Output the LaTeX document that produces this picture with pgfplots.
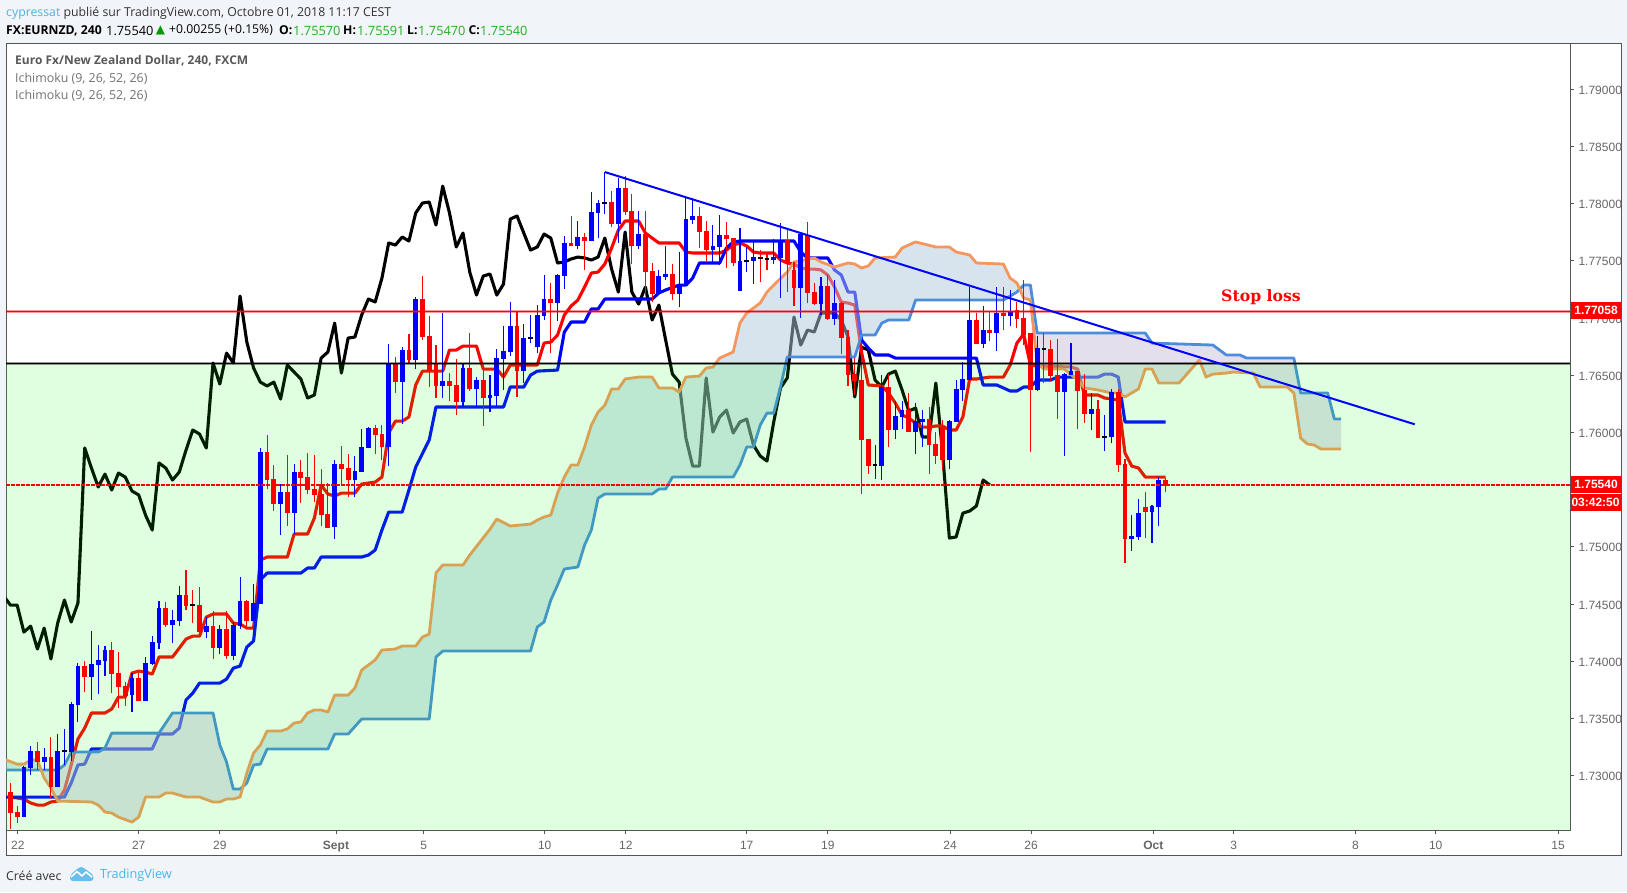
\documentclass[border=0pt]{standalone}
\usepackage{fontspec}
\usepackage{pgfplots}
\usepackage{pgfplotstable}
\pgfplotsset{compat=1.18}
\setmainfont{Open Sans}
\newfontfamily\tickfont{Liberation Sans}
\newfontfamily\stopfont{DejaVu Serif}
\newfontfamily\symfont{DejaVu Sans}
\definecolor{pagebg}{HTML}{F1F4F8}
\definecolor{frame}{HTML}{555555}
\definecolor{ticktxt}{HTML}{666666}
\definecolor{tvblue}{HTML}{4DB4E8}
\definecolor{valgreen}{HTML}{22B022}
\definecolor{cloudT}{RGB}{177,203,221}
\definecolor{cloudP}{RGB}{201,193,221}
\definecolor{leadA}{RGB}{75,140,220}
\definecolor{leadB}{RGB}{245,150,95}
\definecolor{puregreen}{RGB}{0,255,0}
% candles: i, body top, body bottom, wick top, wick bottom
\pgfplotstableread{
i hi lo wh wl
2 1.73074 1.72637 1.73083 1.72637
3 1.73214 1.73065 1.73258 1.73004
5 1.73162 1.73118 1.73240 1.73048
7 1.73214 1.72900 1.73363 1.72900
8 1.73214 1.73214 1.73407 1.73092
9 1.73625 1.73205 1.73643 1.73126
10 1.73957 1.73616 1.73984 1.73468
12 1.73975 1.73861 1.74263 1.73660
13 1.74010 1.73966 1.74141 1.73712
14 1.74097 1.74001 1.74132 1.73870
18 1.73853 1.73703 1.73896 1.73555
20 1.73984 1.73651 1.74036 1.73651
21 1.74167 1.73975 1.74219 1.73966
22 1.74464 1.74158 1.74525 1.74106
24 1.74359 1.74315 1.74447 1.74158
25 1.74578 1.74350 1.74657 1.74306
29 1.74306 1.74254 1.74385 1.74202
31 1.74280 1.74114 1.74315 1.74062
33 1.74315 1.74045 1.74342 1.74010
34 1.74525 1.74306 1.74735 1.74280
36 1.74508 1.74350 1.74674 1.74350
37 1.75828 1.74499 1.75863 1.74499
40 1.75478 1.75373 1.75548 1.75102
42 1.75653 1.75294 1.75723 1.75111
48 1.75723 1.75172 1.75758 1.75067
51 1.75661 1.75583 1.75793 1.75434
52 1.75871 1.75653 1.76029 1.75653
53 1.76038 1.75863 1.76046 1.75863
56 1.76606 1.75871 1.76772 1.75705
58 1.76719 1.76439 1.76745 1.76072
60 1.77165 1.76632 1.77182 1.76553
64 1.76448 1.76405 1.77043 1.76300
67 1.76562 1.76265 1.76597 1.76221
69 1.76457 1.76379 1.76483 1.76221
71 1.76326 1.76300 1.76500 1.76177
72 1.76649 1.76317 1.76728 1.76230
73 1.76710 1.76641 1.76929 1.76370
74 1.76929 1.76702 1.77139 1.76667
76 1.76824 1.76535 1.76947 1.76431
77 1.76824 1.76824 1.77025 1.76780
78 1.77025 1.76745 1.77112 1.76693
79 1.77165 1.77017 1.77375 1.76982
81 1.77375 1.77130 1.77384 1.76973
82 1.77655 1.77366 1.77716 1.77253
84 1.77707 1.77629 1.77847 1.77602
86 1.77925 1.77672 1.78100 1.77672
87 1.78004 1.77917 1.78030 1.77698
88 1.78004 1.78004 1.78275 1.77908
90 1.78135 1.77821 1.78222 1.77655
93 1.77733 1.77629 1.77934 1.77602
96 1.77366 1.77209 1.77419 1.77200
97 1.77384 1.77358 1.77629 1.77331
99 1.77287 1.77209 1.77576 1.77095
100 1.77864 1.77279 1.78047 1.77279
101 1.77891 1.77856 1.78047 1.77821
104 1.77629 1.77593 1.77812 1.77489
105 1.77725 1.77620 1.77899 1.77463
108 1.77497 1.77235 1.77786 1.77235
109 1.77497 1.77497 1.77620 1.77401
110 1.77532 1.77497 1.77664 1.77296
113 1.77532 1.77506 1.77690 1.77471
114 1.77681 1.77524 1.77830 1.77174
117 1.77733 1.77261 1.77742 1.76999
120 1.77279 1.77121 1.77358 1.77025
122 1.77130 1.76990 1.77331 1.76938
128 1.75714 1.75714 1.75889 1.75592
129 1.76396 1.75705 1.76500 1.75583
131 1.76142 1.76020 1.76273 1.75941
132 1.76195 1.76134 1.76273 1.76029
134 1.76098 1.76002 1.76256 1.75810
135 1.76116 1.76090 1.76195 1.75871
139 1.76098 1.75758 1.76107 1.75679
140 1.76379 1.76090 1.76457 1.76090
141 1.76466 1.76370 1.76614 1.76273
142 1.76982 1.76457 1.77270 1.76457
144 1.76894 1.76772 1.77104 1.76737
146 1.77043 1.76868 1.77270 1.76710
148 1.77060 1.77017 1.77244 1.76929
152 1.76737 1.76370 1.76842 1.76361
156 1.76509 1.76352 1.76518 1.75793
157 1.76535 1.76500 1.76780 1.76500
160 1.76204 1.76160 1.76344 1.76020
162 1.75959 1.75959 1.76151 1.75836
163 1.76352 1.75959 1.76379 1.75906
166 1.75093 1.75067 1.75277 1.74962
167 1.75294 1.75085 1.75417 1.75059
169 1.75356 1.75303 1.75365 1.75032
170 1.75583 1.75347 1.75609 1.75181
}\upbars
\pgfplotstableread{
i hi lo wh wl
0 1.72856 1.72672 1.72935 1.72532
1 1.72681 1.72637 1.72734 1.72585
4 1.73214 1.73118 1.73293 1.73048
6 1.73162 1.72900 1.73336 1.72803
11 1.73957 1.73861 1.74001 1.73730
15 1.74097 1.73887 1.74167 1.73721
16 1.73896 1.73774 1.74080 1.73590
17 1.73783 1.73695 1.73818 1.73608
19 1.73853 1.73651 1.73896 1.73651
23 1.74464 1.74315 1.74517 1.74298
26 1.74578 1.74482 1.74796 1.74447
27 1.74490 1.74490 1.74622 1.74333
28 1.74490 1.74254 1.74648 1.74245
30 1.74306 1.74114 1.74438 1.74019
32 1.74280 1.74045 1.74438 1.74019
35 1.74525 1.74350 1.74534 1.74306
38 1.75828 1.75583 1.75977 1.75504
39 1.75592 1.75373 1.75714 1.75312
41 1.75478 1.75294 1.75801 1.75181
43 1.75653 1.75600 1.75758 1.75382
44 1.75609 1.75496 1.75819 1.75461
45 1.75504 1.75452 1.75801 1.75391
46 1.75461 1.75277 1.75679 1.75181
47 1.75286 1.75163 1.75557 1.75163
49 1.75723 1.75679 1.75880 1.75539
50 1.75688 1.75583 1.75810 1.75434
54 1.76038 1.75977 1.76063 1.75810
55 1.75985 1.75871 1.76063 1.75758
57 1.76606 1.76439 1.76658 1.76344
59 1.76719 1.76632 1.76859 1.76606
61 1.77165 1.76833 1.77366 1.76807
62 1.76842 1.76535 1.77017 1.76396
63 1.76606 1.76405 1.76763 1.76300
65 1.76448 1.76405 1.76518 1.76273
66 1.76414 1.76265 1.76641 1.76151
68 1.76562 1.76379 1.76868 1.76361
70 1.76457 1.76300 1.76544 1.76055
75 1.76929 1.76535 1.77060 1.76309
80 1.77165 1.77130 1.77305 1.76693
83 1.77655 1.77629 1.77891 1.77629
85 1.77707 1.77672 1.77742 1.77419
89 1.78013 1.77821 1.78109 1.77795
91 1.78135 1.77925 1.78240 1.77899
92 1.77934 1.77629 1.78083 1.77471
94 1.77733 1.77401 1.77934 1.77200
95 1.77410 1.77209 1.77480 1.77139
98 1.77384 1.77209 1.77471 1.77156
102 1.77891 1.77751 1.77969 1.77611
103 1.77760 1.77593 1.77847 1.77497
106 1.77725 1.77690 1.77838 1.77436
107 1.77698 1.77480 1.77698 1.77454
111 1.77524 1.77524 1.77593 1.77313
112 1.77515 1.77515 1.77576 1.77419
115 1.77681 1.77489 1.77786 1.77226
116 1.77419 1.77261 1.77489 1.77104
118 1.77725 1.77218 1.77838 1.77130
119 1.77226 1.77121 1.77305 1.77112
121 1.77279 1.76990 1.77375 1.76982
123 1.77130 1.76824 1.77139 1.76684
124 1.76833 1.76500 1.76894 1.76405
125 1.76509 1.76448 1.76649 1.76326
126 1.76457 1.75933 1.76789 1.75461
127 1.75941 1.75705 1.75941 1.75635
130 1.76396 1.76020 1.76509 1.75871
133 1.76195 1.76002 1.76344 1.76002
136 1.76116 1.75889 1.76221 1.75635
137 1.75898 1.75793 1.76002 1.75723
138 1.76046 1.75758 1.76107 1.75670
143 1.76982 1.76772 1.77043 1.76772
145 1.76894 1.76868 1.77052 1.76798
147 1.77043 1.77017 1.77270 1.76894
149 1.77069 1.76990 1.77139 1.76912
150 1.76999 1.76850 1.77331 1.76763
151 1.76868 1.76370 1.76868 1.75828
153 1.76728 1.76728 1.76868 1.76431
154 1.76728 1.76492 1.76807 1.76448
155 1.76500 1.76352 1.76815 1.76116
158 1.76535 1.76361 1.76535 1.76029
159 1.76370 1.76160 1.76509 1.76081
161 1.76204 1.75950 1.76282 1.75950
164 1.76352 1.75714 1.76379 1.75653
165 1.75723 1.75067 1.75767 1.74858
168 1.75347 1.75303 1.75478 1.75076
171 1.75583 1.75539 1.75600 1.75478
}\downbars
\pgfplotstableread{
i p
8 1.73214
27 1.74490
77 1.76824
88 1.78004
109 1.77497
111 1.77524
112 1.77515
128 1.75714
153 1.76728
162 1.75959
}\dojis
\pgfplotstableread{
i p
0 1.72812
2 1.72795
3 1.72760
4 1.72742
5 1.72742
6 1.72769
7 1.72777
8 1.72873
9 1.73092
10 1.73319
11 1.73415
12 1.73547
14 1.73547
15 1.73581
16 1.73686
17 1.73686
18 1.73896
19 1.73913
20 1.73905
21 1.73887
22 1.74036
24 1.74036
25 1.74114
26 1.74193
27 1.74219
28 1.74219
29 1.74385
30 1.74412
32 1.74412
33 1.74333
34 1.74324
35 1.74289
36 1.74289
37 1.74884
38 1.74910
41 1.74910
42 1.75111
44 1.75111
45 1.75251
46 1.75539
47 1.75461
48 1.75443
49 1.75469
51 1.75469
52 1.75548
53 1.75557
54 1.75565
55 1.75609
56 1.75994
57 1.76098
58 1.76098
59 1.76134
60 1.76414
61 1.76535
64 1.76535
65 1.76719
66 1.76719
67 1.76754
69 1.76754
70 1.76553
72 1.76553
73 1.76483
74 1.76588
78 1.76588
79 1.76780
80 1.76789
81 1.76850
82 1.77025
83 1.77104
84 1.77156
85 1.77270
86 1.77392
87 1.77401
88 1.77471
89 1.77611
90 1.77768
91 1.77847
93 1.77847
94 1.77742
95 1.77698
96 1.77655
99 1.77655
100 1.77576
101 1.77567
105 1.77567
106 1.77593
107 1.77637
108 1.77655
109 1.77629
110 1.77576
111 1.77567
113 1.77567
114 1.77506
115 1.77480
116 1.77471
117 1.77436
118 1.77427
119 1.77427
120 1.77419
121 1.77375
122 1.77270
123 1.77139
124 1.77130
125 1.77112
126 1.76702
127 1.76414
129 1.76405
130 1.76344
131 1.76256
132 1.76151
133 1.76125
134 1.76081
135 1.76046
136 1.76046
137 1.76055
138 1.76055
139 1.76020
140 1.76020
141 1.76134
142 1.76466
143 1.76466
145 1.76483
147 1.76483
148 1.76588
149 1.76780
150 1.76859
151 1.76588
152 1.76579
157 1.76571
158 1.76553
159 1.76326
161 1.76326
162 1.76300
163 1.76291
164 1.76282
165 1.75819
166 1.75705
167 1.75688
168 1.75609
171 1.75609
}\tenkan
\pgfplotstableread{
i p
-1 1.72812
8 1.72812
9 1.72935
10 1.73092
11 1.73100
12 1.73232
21 1.73232
22 1.73363
24 1.73363
25 1.73415
26 1.73660
27 1.73721
28 1.73808
31 1.73808
32 1.73843
33 1.73939
34 1.73957
35 1.74123
36 1.74176
37 1.74709
38 1.74770
43 1.74770
44 1.74814
45 1.74814
46 1.74910
52 1.74910
53 1.74927
54 1.74971
55 1.75146
56 1.75303
58 1.75303
59 1.75496
60 1.75696
62 1.75933
63 1.76221
73 1.76221
74 1.76396
76 1.76396
77 1.76500
78 1.76535
81 1.76544
82 1.76877
83 1.76964
85 1.76964
86 1.77078
87 1.77078
88 1.77165
95 1.77165
96 1.77218
97 1.77244
99 1.77287
100 1.77287
101 1.77348
102 1.77480
105 1.77480
106 1.77611
107 1.77664
108 1.77672
116 1.77672
117 1.77576
118 1.77524
121 1.77524
122 1.77419
123 1.77375
124 1.77226
125 1.77226
126 1.76807
127 1.76737
128 1.76676
130 1.76676
131 1.76649
143 1.76649
144 1.76414
146 1.76414
147 1.76388
148 1.76361
149 1.76361
150 1.76396
151 1.76396
152 1.76457
154 1.76457
155 1.76483
161 1.76483
162 1.76509
163 1.76509
164 1.76483
165 1.76090
171 1.76090
}\kijun
\pgfplotstableread{
i p
-1 1.74570
0 1.74490
1 1.74490
2 1.74254
3 1.74306
4 1.74106
5 1.74289
6 1.74019
7 1.74333
8 1.74534
9 1.74342
10 1.74508
11 1.75863
12 1.75688
13 1.75522
14 1.75635
15 1.75496
16 1.75644
17 1.75609
18 1.75487
19 1.75452
20 1.75277
21 1.75146
22 1.75732
23 1.75688
24 1.75583
25 1.75653
26 1.75845
27 1.76020
28 1.75985
29 1.75863
30 1.76606
31 1.76422
32 1.76693
33 1.76606
34 1.77191
35 1.76789
36 1.76562
37 1.76439
38 1.76405
39 1.76439
40 1.76291
41 1.76588
42 1.76527
43 1.76466
44 1.76300
45 1.76326
46 1.76649
47 1.76702
48 1.76955
49 1.76518
50 1.76824
51 1.76833
52 1.77025
53 1.77165
54 1.77139
55 1.77348
56 1.77655
57 1.77637
58 1.77707
59 1.77672
60 1.77917
61 1.78004
62 1.78013
63 1.77812
64 1.78152
65 1.77917
66 1.77620
67 1.77742
68 1.77401
69 1.77200
70 1.77366
71 1.77384
72 1.77200
73 1.77296
74 1.77864
75 1.77891
76 1.77742
77 1.77593
78 1.77620
79 1.77733
80 1.77698
81 1.77480
82 1.77489
83 1.77515
84 1.77532
85 1.77524
86 1.77506
87 1.77532
88 1.77698
89 1.77427
90 1.77226
91 1.77751
92 1.77226
93 1.77121
94 1.77270
95 1.76982
96 1.77112
97 1.76807
98 1.76509
99 1.76439
100 1.75950
101 1.75705
102 1.75705
103 1.76475
104 1.76002
105 1.76134
106 1.76195
107 1.75994
108 1.76090
109 1.76116
110 1.75889
111 1.75793
112 1.75749
113 1.76090
114 1.76388
115 1.76475
116 1.77008
117 1.76763
118 1.76894
119 1.76877
120 1.77043
122 1.77043
123 1.76982
124 1.76833
125 1.76309
126 1.76745
127 1.76719
128 1.76457
129 1.76396
130 1.76509
131 1.76535
132 1.76370
133 1.76186
134 1.76212
135 1.75959
136 1.75959
137 1.76431
138 1.75819
139 1.75076
140 1.75085
141 1.75294
142 1.75312
143 1.75356
144 1.75583
145 1.75539
}\chikou
\pgfplotstableread{
i p
-1 1.73048
7 1.73048
8 1.73092
9 1.73205
13 1.73205
14 1.73240
15 1.73371
22 1.73371
24 1.73547
30 1.73547
31 1.73267
32 1.73118
33 1.72882
34 1.72882
35 1.72935
36 1.73092
37 1.73100
38 1.73232
47 1.73232
48 1.73363
50 1.73363
52 1.73494
62 1.73494
63 1.74036
64 1.74088
77 1.74088
78 1.74298
79 1.74342
80 1.74534
81 1.74665
82 1.74805
83 1.74814
84 1.74823
85 1.75015
86 1.75146
87 1.75425
88 1.75461
95 1.75461
96 1.75504
97 1.75504
98 1.75609
107 1.75609
108 1.75714
109 1.75871
110 1.75871
111 1.76063
112 1.76168
113 1.76168
114 1.76396
115 1.76658
125 1.76658
126 1.76850
128 1.76850
129 1.76955
130 1.76982
133 1.76982
134 1.77156
147 1.77156
149 1.77226
150 1.77287
151 1.77287
152 1.76868
168 1.76868
169 1.76780
178 1.76763
180 1.76676
182 1.76676
183 1.76649
190 1.76649
191 1.76344
195 1.76344
196 1.76116
197 1.76116
}\spanA
\pgfplotstableread{
i p
-1 1.73144
1 1.73100
2 1.73100
3 1.73135
4 1.73135
5 1.72978
6 1.72891
7 1.72777
12 1.72769
13 1.72742
14 1.72681
15 1.72672
16 1.72637
18 1.72593
19 1.72637
20 1.72812
22 1.72812
23 1.72847
24 1.72847
26 1.72812
28 1.72812
30 1.72769
31 1.72769
32 1.72795
33 1.72795
34 1.72812
35 1.73022
36 1.73197
37 1.73267
38 1.73389
40 1.73389
41 1.73407
42 1.73459
43 1.73468
44 1.73547
45 1.73573
46 1.73573
47 1.73555
48 1.73703
50 1.73703
51 1.73765
52 1.73922
54 1.74010
55 1.74097
57 1.74106
58 1.74132
60 1.74132
61 1.74211
62 1.74236
63 1.74770
64 1.74840
67 1.74840
68 1.74927
71 1.75154
72 1.75242
74 1.75181
77 1.75198
78 1.75233
79 1.75260
80 1.75277
81 1.75469
82 1.75609
83 1.75714
84 1.75714
85 1.75871
86 1.76063
87 1.76177
88 1.76238
89 1.76379
90 1.76379
91 1.76466
93 1.76483
95 1.76483
96 1.76388
98 1.76388
99 1.76352
100 1.76483
102 1.76492
103 1.76562
104 1.76571
105 1.76649
107 1.76702
108 1.76955
109 1.77043
111 1.77130
112 1.77226
113 1.77287
115 1.77401
116 1.77489
119 1.77524
120 1.77489
122 1.77445
124 1.77480
125 1.77471
126 1.77436
127 1.77454
128 1.77524
131 1.77532
132 1.77611
134 1.77664
137 1.77620
139 1.77620
140 1.77576
142 1.77550
143 1.77480
147 1.77471
148 1.77348
149 1.77305
150 1.77174
151 1.77156
152 1.76606
153 1.76553
156 1.76553
158 1.76457
159 1.76388
161 1.76370
163 1.76344
164 1.76344
165 1.76309
167 1.76379
168 1.76553
169 1.76553
170 1.76431
173 1.76431
176 1.76632
177 1.76483
178 1.76509
180 1.76518
181 1.76527
184 1.76518
185 1.76396
189 1.76396
190 1.76344
191 1.75950
192 1.75898
193 1.75889
194 1.75854
197 1.75854
}\spanB
\newcommand\T[4][]{\node[anchor=west,inner sep=0pt,#1] at (#2,{892-(#3)}) {#4};}
\newcommand\fs[1]{\fontsize{#1}{#1}\selectfont}
\begin{document}
\begin{tikzpicture}[x=1pt,y=1pt]
\path[use as bounding box,fill=pagebg] (0,0) rectangle (1627,892);
\draw[frame,fill=white,line width=0.9pt] (6,37) rectangle (1621,849);
\begin{axis}[
  at={(6pt,62pt)},anchor=south west,scale only axis,
  width=1564pt,height=787pt,
  xmin=-0.651,xmax=230.88,ymin=1.72524,ymax=1.79403,
  axis line style={frame,line width=0.9pt},
  tick align=outside,major tick length=4pt,
  tick style={frame,line width=0.8pt},
  xtick pos=lower,ytick pos=upper,
  xticklabel pos=lower,yticklabel pos=upper,
  xtick={1.1,19,31,48.2,61.2,79.1,91.1,109,121,139.1,151.1,169.2,181.1,199.1,211,229.1},
  xticklabels={22,27,29,\textbf{Sept},5,10,12,17,19,24,26,\textbf{Oct},3,8,10,15},
  ytick={1.73,1.735,1.74,1.745,1.75,1.76,1.765,1.77,1.775,1.78,1.785,1.79},
  yticklabel style={/pgf/number format/fixed,/pgf/number format/fixed zerofill,/pgf/number format/precision=5,/pgf/number format/assume math mode=true,xshift=1pt,yshift=-1pt},
  ticklabel style={font=\tickfont\fs{12},text=ticktxt},
  xticklabel style={yshift=-4pt},
  clip=true,
]
% first Ichimoku, below the cloud
\addplot[black,line width=3.1pt,line join=round,forget plot] table[x=i,y=p]{\chikou};
\addplot[red,line width=3.1pt,line join=round,forget plot] table[x=i,y=p]{\tenkan};
\addplot[blue,line width=3.1pt,line join=round,forget plot] table[x=i,y=p]{\kijun};
% cloud sectors: span A forward, span B back
\addplot[fill=cloudT,fill opacity=.5,draw=none,forget plot] coordinates {(-1,1.73048)(4.56,1.73048)(4,1.73135)(3,1.73135)(2,1.731)(1,1.731)(-1,1.73144)} -- cycle;
\addplot[fill=cloudP,fill opacity=.5,draw=none,forget plot] coordinates {(4.56,1.73048)(7,1.73048)(8,1.73092)(9,1.73205)(13,1.73205)(14,1.7324)(15,1.73371)(22,1.73371)(24,1.73547)(30,1.73547)(31,1.73267)(32,1.73118)(33,1.72882)(34,1.72882)(34.44,1.72905)(34,1.72812)(33,1.72795)(32,1.72795)(31,1.72769)(30,1.72769)(28,1.72812)(26,1.72812)(24,1.72847)(23,1.72847)(22,1.72812)(20,1.72812)(19,1.72637)(18,1.72593)(16,1.72637)(15,1.72672)(14,1.72681)(13,1.72742)(12,1.72769)(7,1.72777)(6,1.72891)(5,1.72978)} -- cycle;
\addplot[fill=cloudT,fill opacity=.5,draw=none,forget plot] coordinates {(34.44,1.72905)(35,1.72935)(36,1.73092)(37,1.731)(38,1.73232)(47,1.73232)(48,1.73363)(50,1.73363)(52,1.73494)(62,1.73494)(63,1.74036)(64,1.74088)(77,1.74088)(78,1.74298)(79,1.74342)(80,1.74534)(81,1.74665)(82,1.74805)(83,1.74814)(84,1.74823)(85,1.75015)(86,1.75146)(87,1.75425)(88,1.75461)(95,1.75461)(96,1.75504)(97,1.75504)(98,1.75609)(107,1.75609)(108,1.75714)(109,1.75871)(110,1.75871)(111,1.76063)(112,1.76168)(113,1.76168)(114,1.76396)(115,1.76658)(125,1.76658)(126,1.7685)(128,1.7685)(129,1.76955)(130,1.76982)(133,1.76982)(134,1.77156)(147,1.77156)(149,1.77226)(149.4,1.7725)(149,1.77305)(148,1.77348)(147,1.77471)(143,1.7748)(142,1.7755)(140,1.77576)(139,1.7762)(137,1.7762)(134,1.77664)(132,1.77611)(131,1.77532)(128,1.77524)(127,1.77454)(126,1.77436)(125,1.77471)(124,1.7748)(122,1.77445)(120,1.77489)(119,1.77524)(116,1.77489)(115,1.77401)(113,1.77287)(112,1.77226)(111,1.7713)(109,1.77043)(108,1.76955)(107,1.76702)(105,1.76649)(104,1.76571)(103,1.76562)(102,1.76492)(100,1.76483)(99,1.76352)(98,1.76388)(96,1.76388)(95,1.76483)(93,1.76483)(91,1.76466)(90,1.76379)(89,1.76379)(88,1.76238)(87,1.76177)(86,1.76063)(85,1.75871)(84,1.75714)(83,1.75714)(82,1.75609)(81,1.75469)(80,1.75277)(79,1.7526)(78,1.75233)(77,1.75198)(74,1.75181)(72,1.75242)(71,1.75154)(68,1.74927)(67,1.7484)(64,1.7484)(63,1.7477)(62,1.74236)(61,1.74211)(60,1.74132)(58,1.74132)(57,1.74106)(55,1.74097)(54,1.7401)(52,1.73922)(51,1.73765)(50,1.73703)(48,1.73703)(47,1.73555)(46,1.73573)(45,1.73573)(44,1.73547)(43,1.73468)(42,1.73459)(41,1.73407)(40,1.73389)(38,1.73389)(37,1.73267)(36,1.73197)(35,1.73022)} -- cycle;
\addplot[fill=cloudP,fill opacity=.5,draw=none,forget plot] coordinates {(149.4,1.7725)(150,1.77287)(151,1.77287)(152,1.76868)(168,1.76868)(169,1.7678)(178,1.76763)(180,1.76676)(182,1.76676)(183,1.76649)(190,1.76649)(191,1.76344)(195,1.76344)(196,1.76116)(197,1.76116)(197,1.75854)(194,1.75854)(193,1.75889)(192,1.75898)(191,1.7595)(190,1.76344)(189,1.76396)(185,1.76396)(184,1.76518)(181,1.76527)(180,1.76518)(178,1.76509)(177,1.76483)(176,1.76632)(173,1.76431)(170,1.76431)(169,1.76553)(168,1.76553)(167,1.76379)(165,1.76309)(164,1.76344)(163,1.76344)(161,1.7637)(159,1.76388)(158,1.76457)(156,1.76553)(153,1.76553)(152,1.76606)(151,1.77156)(150,1.77174)} -- cycle;
\addplot[leadA,line width=2.8pt,line join=round,forget plot] table[x=i,y=p]{\spanA};
\addplot[leadB,line width=2.8pt,line join=round,forget plot] table[x=i,y=p]{\spanB};
% green band
\addplot[fill=puregreen,fill opacity=.12,draw=none,forget plot]
  coordinates {(-0.651,1.76603)(230.88,1.76603)(230.88,1.72524)(-0.651,1.72524)} -- cycle;
% wicks and bodies
\addplot[draw=none,mark=none,forget plot,error bars/.cd,y dir=plus,y explicit,error mark=none,error bar style={draw=blue,line width=1.1pt}]
  table[x=i,y=wl,y error plus expr=\thisrow{wh}-\thisrow{wl}]{\upbars};
\addplot[draw=none,mark=none,forget plot,error bars/.cd,y dir=plus,y explicit,error mark=none,error bar style={draw=red,line width=1.1pt}]
  table[x=i,y=wl,y error plus expr=\thisrow{wh}-\thisrow{wl}]{\downbars};
\addplot[draw=none,mark=none,forget plot,error bars/.cd,y dir=plus,y explicit,error mark=none,error bar style={draw=blue,line width=4.8pt}]
  table[x=i,y=lo,y error plus expr=\thisrow{hi}-\thisrow{lo}]{\upbars};
\addplot[draw=none,mark=none,forget plot,error bars/.cd,y dir=plus,y explicit,error mark=none,error bar style={draw=red,line width=4.8pt}]
  table[x=i,y=lo,y error plus expr=\thisrow{hi}-\thisrow{lo}]{\downbars};
\addplot[draw=none,mark=none,forget plot,error bars/.cd,x dir=both,x fixed=0.36,error mark=none,error bar style={draw=black,line width=1.8pt}]
  table[x=i,y=p]{\dojis};
% levels
\addplot[red,opacity=.4,line width=3pt,forget plot] coordinates {(-0.651,1.77058)(230.88,1.77058)};
\addplot[red,line width=1.4pt,forget plot] coordinates {(-0.651,1.77058)(230.88,1.77058)};
\addplot[black,opacity=.4,line width=3pt,forget plot] coordinates {(-0.651,1.76603)(230.88,1.76603)};
\addplot[black,line width=1.4pt,forget plot] coordinates {(-0.651,1.76603)(230.88,1.76603)};
\addplot[red,line width=1.6pt,dash pattern=on 3.5pt off 1.5pt,forget plot] coordinates {(-0.651,1.7554)(230.88,1.7554)};
% trend line
\addplot[blue,line width=2pt,forget plot] coordinates {(88,1.78275)(207.9,1.7607)};
\end{axis}
% header
\T{6}{13}{\fs{12.3}\textcolor{tvblue}{cypressat} \textcolor{black!80}{publié sur TradingView.com, Octobre 01, 2018 11:17 CEST}}
\T{6}{30.5}{\fs{12.2}\textbf{FX:EURNZD, 240}}
\T{106}{30.5}{\fs{12.8}1.75540}
\node[inner sep=0pt,text=green!60!black] at (160.5,{892-30.5}) {\symfont\fs{12}▲};
\T{169}{30.5}{\fs{12.2}+0.00255 (+0.15\%)}
\T{279}{30.5}{\fs{12.2}\textbf{O:}} \T{293}{30.5}{\fs{12.8}\textcolor{valgreen}{1.75570}}
\T{343}{30.5}{\fs{12.2}\textbf{H:}} \T{357}{30.5}{\fs{12.8}\textcolor{valgreen}{1.75591}}
\T{407}{30.5}{\fs{12.2}\textbf{L:}} \T{418}{30.5}{\fs{12.8}\textcolor{valgreen}{1.75470}}
\T{468.5}{30.5}{\fs{12.2}\textbf{C:}} \T{480}{30.5}{\fs{12.8}\textcolor{valgreen}{1.75540}}
% legend text
\T{15}{61}{\fs{12}\textbf{\textcolor{black!65}{Euro Fx/New Zealand Dollar, 240, FXCM}}}
\T{15}{78.5}{\fs{12.4}\textcolor{black!55}{Ichimoku (9, 26, 52, 26)}}
\T{15}{96}{\fs{12.4}\textcolor{black!55}{Ichimoku (9, 26, 52, 26)}}
% stop loss
\node[inner sep=0pt,text=red] at (1261,{892-297}) {\stopfont\bfseries\fs{15.7}Stop loss};
% price labels
\fill[red] (1570.5,{892-302}) rectangle (1620.5,{892-318.7});
\node[text=white,inner sep=0pt] at (1596,{892-310.5}) {\tickfont\bfseries\fs{12}1.77058};
\fill[red] (1570.5,{892-476}) rectangle (1620.5,{892-492.7});
\node[text=white,inner sep=0pt] at (1596,{892-484.5}) {\tickfont\bfseries\fs{12}1.75540};
\fill[red] (1570.5,{892-493.7}) rectangle (1620.5,{892-510.7});
\node[text=white,inner sep=0pt] at (1595.5,{892-502.2}) {\tickfont\bfseries\fs{12}03:42:50};
% footer
\T{6}{875.5}{\fs{12.3}\textcolor{black!80}{Créé avec}}
\fill[tvblue!85!white,rounded corners=3pt] (70,{892-881}) -- (70,{892-875}) -- (76,{892-870}) -- (81,{892-866}) -- (88,{892-871}) -- (93.5,{892-875}) -- (93.5,{892-881}) -- cycle;
\draw[white,line width=1.6pt,line join=round] (71,{892-877}) -- (77,{892-871.5}) -- (82,{892-876}) -- (86,{892-872}) -- (92,{892-877});
\T{100}{875.5}{\fs{12.7}\textcolor{tvblue}{TradingView}}
\end{tikzpicture}
\end{document}
